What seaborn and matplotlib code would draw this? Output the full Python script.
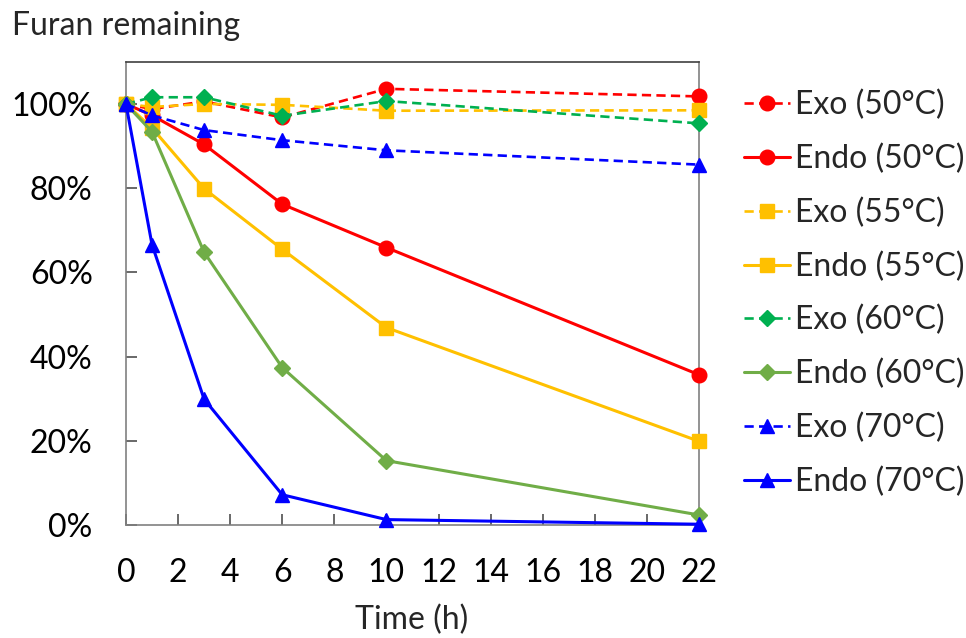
import matplotlib
matplotlib.use("Agg")
import matplotlib.pyplot as plt
import seaborn as sns
import pandas as pd

# Sampling times (h)
hours = [0, 1, 3, 6, 10, 22]

# Fraction of furan remaining (%) per reactor type and temperature
exo_50 = [100, 98.8, 100.6, 96.8, 103.6, 101.8]
endo_50 = [100, 97.3, 90.4, 76.2, 65.9, 35.7]
exo_55 = [100, 99.3, 100.0, 99.8, 98.4, 98.5]
endo_55 = [100, 94.3, 79.9, 65.5, 46.9, 19.9]
exo_60 = [100, 101.6, 101.6, 97.2, 100.7, 95.4]
endo_60 = [100, 93.4, 64.8, 37.4, 15.3, 2.4]
exo_70 = [100, 97.3, 93.8, 91.4, 89.0, 85.6]
endo_70 = [100, 66.6, 29.9, 7.2, 1.3, 0.2]

labels = ["Exo (50°C)", "Endo (50°C)", "Exo (55°C)", "Endo (55°C)",
          "Exo (60°C)", "Endo (60°C)", "Exo (70°C)", "Endo (70°C)"]
series = [exo_50, endo_50, exo_55, endo_55, exo_60, endo_60, exo_70, endo_70]

colors = ["#FF0000", "#FF0000", "#FFC000", "#FFC000",
          "#00B050", "#70AD47", "#0000FF", "#0000FF"]
markers = ["o", "o", "s", "s", "D", "D", "^", "^"]
msizes = [10.5, 10.5, 10.5, 10.5, 8, 8, 10, 10]
dashed = [True, False] * 4

df = pd.DataFrame({
    "Time": hours * len(series),
    "Remaining": [v / 100 for s in series for v in s],
    "Series": [lab for lab in labels for _ in hours],
})

sns.set_theme(style="white")
plt.rcParams["font.family"] = ["Lato", "DejaVu Sans"]

FS = 23

fig = plt.figure(figsize=(9.66, 6.38), dpi=100)
ax = fig.add_axes([0.1304, 0.177, 0.5932, 0.726])

for lab, col, mk, ms, dsh in zip(labels, colors, markers, msizes, dashed):
    sub = df[df["Series"] == lab]
    sns.lineplot(data=sub, x="Time", y="Remaining", ax=ax, color=col,
                 marker=mk, markersize=ms, markeredgecolor=col,
                 markerfacecolor=col, markeredgewidth=1,
                 linestyle=(0, (3.5, 2)) if dsh else "-",
                 linewidth=1.9 if dsh else 2.2, label=lab, clip_on=False,
                 zorder=3)

handles, labs = ax.get_legend_handles_labels()
if ax.get_legend() is not None:
    ax.get_legend().remove()

ax.set_xlim(0, 22)
ax.set_ylim(0, 1.1)
ax.set_xticks(range(0, 23, 2))
ax.set_yticks([0, 0.2, 0.4, 0.6, 0.8, 1.0])
ax.set_yticklabels([f"{int(round(t * 100))}%" for t in [0, 0.2, 0.4, 0.6, 0.8, 1.0]])
ax.set_xlabel("")
ax.set_ylabel("")

for sp in ax.spines.values():
    sp.set_visible(True)
    sp.set_color("#808080")
    sp.set_linewidth(1.2)
    sp.set_zorder(1)
ax.spines["top"].set_color("#404040")

ax.tick_params(axis="both", direction="in", length=8, width=1.1,
               color="#404040", labelsize=FS, labelcolor="black")
ax.tick_params(axis="x", pad=24, bottom=True)
ax.tick_params(axis="y", pad=24, left=True)

fig.text(0.012, 0.96, "Furan remaining", fontsize=FS, ha="left", va="center")
fig.text(0.426, 0.028, "Time (h)", fontsize=FS, ha="center", va="center")

fig.legend(handles, labs, loc="upper left", bbox_to_anchor=(0.770, 0.859),
           frameon=False, fontsize=FS, handlelength=1.45, handletextpad=0.15,
           labelspacing=0.73, borderaxespad=0, borderpad=0)

fig.savefig("out.png", dpi=100, facecolor="white")
